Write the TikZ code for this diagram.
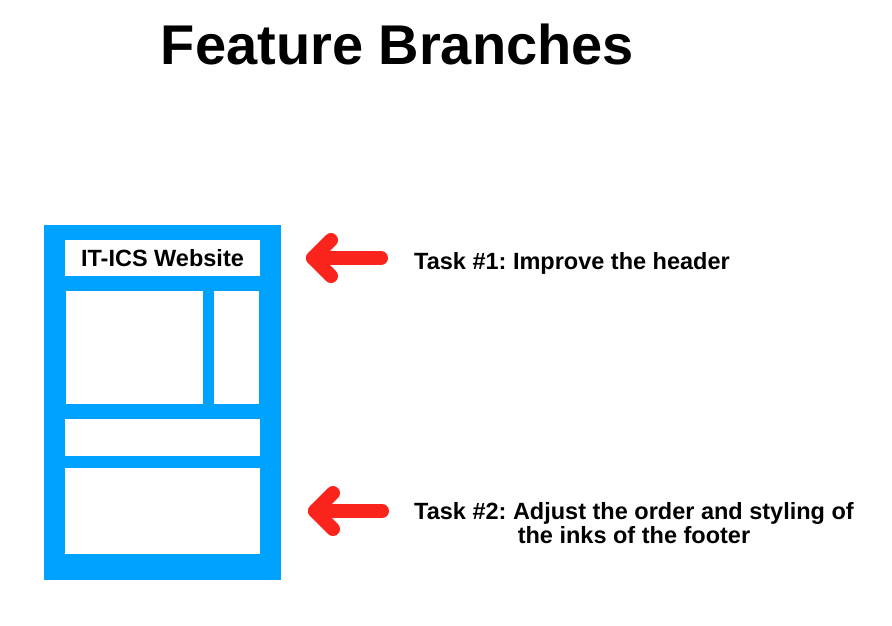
\documentclass[tikz,border=0pt]{standalone}
\usepackage{fontspec}
\setmainfont{Liberation Sans}
\frenchspacing
\definecolor{siteblue}{RGB}{0,162,255}
\definecolor{arrowred}{RGB}{250,36,28}
\begin{document}
\begin{tikzpicture}[x=1pt,y=-1pt,
  panel/.style={fill=white},
  label/.style={font=\bfseries\fontsize{23.5}{24}\selectfont, inner sep=0pt, anchor=base},
  taskarrow/.style={draw=arrowred, line width=14pt, line cap=round, line join=round}]
  \useasboundingbox (0,0) rectangle (892,625);

  % title
  \node[font=\bfseries\fontsize{56}{60}\selectfont, inner sep=0pt, anchor=base] (title) at (397.5,64) {Feature Branches};

  % website mock-up: blue frame with white panels
  \fill[siteblue] (44,225) rectangle (281,580);
  \fill[panel] (65,240) rectangle (260,276);
  \fill[panel] (66,291) rectangle (203,404);
  \fill[panel] (214,291) rectangle (259,404);
  \fill[panel] (65,419) rectangle (260,456);
  \fill[panel] (65,468) rectangle (260,554);
  \node[label] (site) at (162.5,266) {IT-ICS Website};

  % task labels (base anchor of the two-line label is its last line)
  \node[label] (task1) at (572,269) {Task \#1: Improve the header};
  \node[label, align=center] (task2) at (634,543) {Task \#2: Adjust the order and styling of\\the inks of the footer};

  % arrow pointing at the header
  \coordinate (a1tail) at (381,258);
  \coordinate (a1tip) at (313,258);
  \coordinate (a1up) at (331,240);
  \coordinate (a1dn) at (331,276);
  \draw[taskarrow] (a1tail) -- (a1tip);
  \draw[taskarrow] (a1up) -- (a1tip) -- (a1dn);

  % arrow pointing at the footer
  \coordinate (a2tail) at (382,511);
  \coordinate (a2tip) at (315,511);
  \coordinate (a2up) at (333,493);
  \coordinate (a2dn) at (333,529);
  \draw[taskarrow] (a2tail) -- (a2tip);
  \draw[taskarrow] (a2up) -- (a2tip) -- (a2dn);
\end{tikzpicture}
\end{document}
